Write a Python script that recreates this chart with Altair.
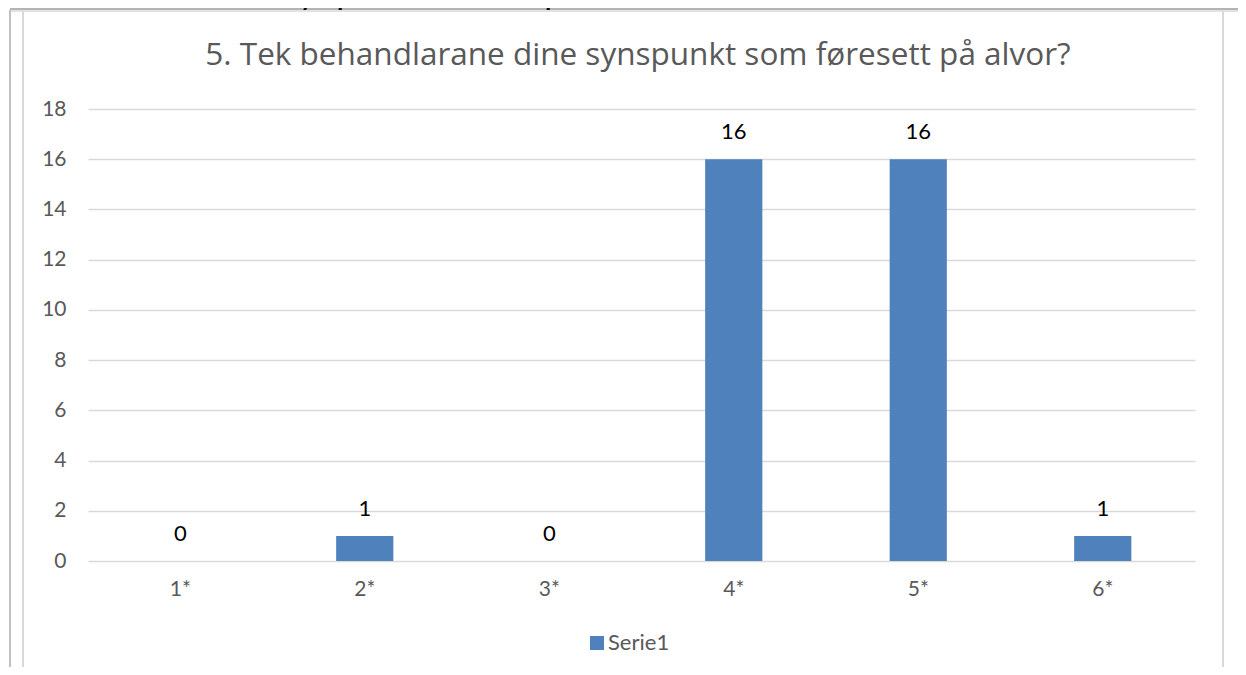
import altair as alt
import pandas as pd

categories = ["1*", "2*", "3*", "4*", "5*", "6*"]
values = [0, 1, 0, 16, 16, 1]
series_name = "Serie1"
title_text = "5. Tek behandlarane dine synspunkt som føresett på alvor?"
header_text = "5. Tek behandlarane dine synspunkt som føresett på alvor?"
y_ticks = [0, 2, 4, 6, 8, 10, 12, 14, 16, 18]

FONT = "Lato"
TITLE_FONT = "Open Sans"
GREY_TXT = "#595959"
GRID = "#d9d9d9"
BAR = "#4f81bd"

df = pd.DataFrame({"cat": categories, "val": values, "series": [series_name] * len(categories)})
one = pd.DataFrame({"t": [title_text]})
hdr = pd.DataFrame({"t": [header_text]})

x_enc = alt.X(
    "cat:N", sort=categories, title=None,
    scale=alt.Scale(paddingInner=0.69, paddingOuter=0.345),
    axis=alt.Axis(labelAngle=0, labelFontSize=21, labelColor=GREY_TXT, labelPadding=17,
                  grid=False, domain=False, ticks=False, labelFont=FONT),
)
y_enc = alt.Y(
    "val:Q", title=None, scale=alt.Scale(domain=[0, 18]),
    axis=alt.Axis(values=y_ticks, labelFontSize=21, labelColor=GREY_TXT, labelPadding=22,
                  grid=True, gridColor=GRID, gridWidth=1.5, domain=False, ticks=False,
                  labelFont=FONT),
)

bars = alt.Chart(df).mark_bar().encode(
    x=x_enc, y=y_enc,
    color=alt.Color("series:N", scale=alt.Scale(range=[BAR]),
                    legend=alt.Legend(title=None, orient="none", legendX=498, legendY=523,
                                      symbolType="square", symbolSize=196, symbolStrokeWidth=0,
                                      labelFontSize=22, labelColor=GREY_TXT, labelFont=FONT,
                                      labelOffset=0, padding=0)),
)

labels = alt.Chart(df).mark_text(dy=-20, baseline="alphabetic", fontSize=22, font=FONT,
                                 color="black").encode(
    x=alt.X("cat:N", sort=categories), y=alt.Y("val:Q"), text="val:Q")

title = alt.Chart(one).mark_text(fontSize=31.5, font=TITLE_FONT, color=GREY_TXT, align="center",
                                 baseline="alphabetic").encode(
    x=alt.value(550), y=alt.value(-44), text="t:N")

header_rect = alt.Chart(hdr).mark_rect(color="#b4b4b4").encode(
    x=alt.value(-78), x2=alt.value(1160), y=alt.value(-112), y2=alt.value(-99))
header_txt = alt.Chart(hdr).mark_text(fontSize=24, font=FONT, fontWeight="bold", color="black",
                                      align="left", baseline="alphabetic").encode(
    x=alt.value(-68), y=alt.value(-103), text="t:N")

line_df = pd.DataFrame({"a": [0]})
left_outer = alt.Chart(line_df).mark_rule(color="#c0c0c0", strokeWidth=2).encode(
    x=alt.value(-78), y=alt.value(-99), y2=alt.value(570))
left_inner = alt.Chart(line_df).mark_rule(color=GRID, strokeWidth=2).encode(
    x=alt.value(-65), y=alt.value(-98), y2=alt.value(570))
right_line = alt.Chart(line_df).mark_rule(color=GRID, strokeWidth=2).encode(
    x=alt.value(1135), y=alt.value(-98), y2=alt.value(570))
top_line = alt.Chart(line_df).mark_rule(color=GRID, strokeWidth=1.5).encode(
    x=alt.value(-77), x2=alt.value(1160), y=alt.value(-98))

chart = alt.layer(
    header_rect, header_txt, top_line, left_outer, left_inner, right_line,
    bars, labels, title,
).properties(
    width=1107, height=452,
    autosize=alt.AutoSizeParams(type="none"),
    padding={"left": 80, "top": 101, "right": 43, "bottom": 106},
    background="white",
).configure_view(stroke=None)

chart.save("out.html", embed_options={"renderer": "svg", "actions": False})
